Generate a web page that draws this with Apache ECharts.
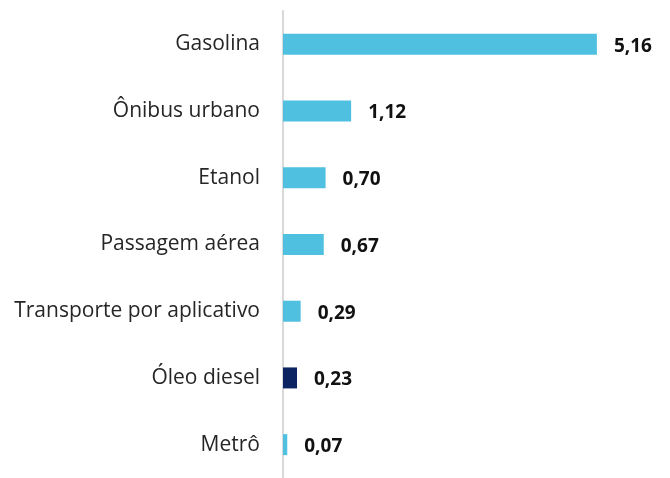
<!DOCTYPE html>
<html lang="pt">
<head>
    <meta charset="UTF-8">
    <title>Chart</title>
    <script src="https://cdn.jsdelivr.net/npm/echarts@6/dist/echarts.min.js"></script>
    <style>
        *{margin:0;padding:0;}
        html,body{width:100%;height:100%;overflow:hidden;background:#fff;}
        .box{width:670px;height:478px;}
    </style>
</head>
<body>
<div class="box"></div>
<script>
    // dados (de cima para baixo)
    let categories = ['Gasolina', 'Ônibus urbano', 'Etanol', 'Passagem aérea', 'Transporte por aplicativo', 'Óleo diesel', 'Metrô'];
    let values = [5.16, 1.12, 0.70, 0.67, 0.29, 0.23, 0.07];
    let highlight = ['Óleo diesel'];

    let myChart = echarts.init(document.querySelector('.box'));

    let data = values.map((v, i) => ({
        value: v,
        itemStyle: {color: highlight.includes(categories[i]) ? '#0c2461' : '#4fc0df'}
    }));

    let option = {
        backgroundColor: '#fff',
        grid: {left: 283, right: 22, top: 11, bottom: -3},
        xAxis: {
            type: 'value',
            min: 0,
            max: 6,
            show: false
        },
        yAxis: {
            type: 'category',
            inverse: true,
            data: categories,
            axisLine: {lineStyle: {color: '#d9d9d9', width: 2}},
            axisTick: {show: false},
            axisLabel: {
                color: '#262626',
                fontSize: 21,
                fontFamily: 'Open Sans',
                margin: 23,
                padding: [4, 0, 0, 0]
            }
        },
        series: [{
            type: 'bar',
            data,
            barWidth: 21,
            label: {
                show: true,
                position: 'right',
                distance: 17,
                color: '#111',
                fontSize: 19,
                fontWeight: 'bold',
                fontFamily: 'Open Sans',
                offset: [0, 2],
                formatter: p => p.value.toFixed(2).replace('.', ',')
            }
        }]
    };

    myChart.setOption(option);
</script>
</body>
</html>
